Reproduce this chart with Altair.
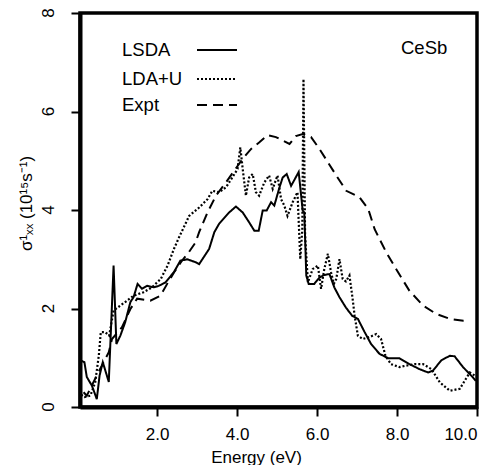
import altair as alt
import pandas as pd

# ---- data ----
lsda_E = [0.08, 0.18, 0.24, 0.37, 0.49, 0.56, 0.64, 0.79, 0.91, 0.98, 1.08, 1.20, 1.33, 1.41, 1.51,
          1.62, 1.75, 1.91, 2.04, 2.21, 2.42, 2.58, 2.75, 2.96, 3.05, 3.30, 3.43, 3.55, 3.80, 3.97,
          4.14, 4.30, 4.43, 4.54, 4.64, 4.74, 4.85, 4.93, 5.06, 5.14, 5.24, 5.35, 5.54, 5.64, 5.68,
          5.73, 5.79, 5.93, 6.06, 6.18, 6.31, 6.43, 6.56, 6.72, 6.88, 7.02, 7.19, 7.35, 7.56, 7.78,
          8.06, 8.31, 8.56, 8.78, 8.90, 9.11, 9.32, 9.44, 9.65, 9.90, 9.97]
lsda_S = [0.95, 0.91, 0.61, 0.43, 0.16, 0.64, 0.91, 0.51, 2.87, 1.28, 1.45, 1.72, 2.13, 2.23, 2.50,
          2.40, 2.46, 2.43, 2.46, 2.53, 2.74, 2.97, 3.00, 2.94, 2.90, 3.21, 3.55, 3.72, 3.95, 4.07,
          3.95, 3.75, 3.58, 3.58, 3.99, 3.99, 4.16, 4.09, 4.46, 4.66, 4.73, 4.49, 4.77, 3.99, 3.95,
          2.67, 2.50, 2.50, 2.63, 2.68, 2.70, 2.43, 2.23, 2.02, 1.85, 1.79, 1.52, 1.28, 1.08, 0.99,
          0.99, 0.87, 0.77, 0.70, 0.74, 0.95, 1.04, 1.03, 0.81, 0.60, 0.53]

ldau_E = [0.10, 0.18, 0.33, 0.45, 0.54, 0.59, 0.70, 0.80, 0.91, 1.08, 1.25, 1.41, 1.66, 1.87, 2.09,
          2.26, 2.42, 2.55, 2.80, 3.05, 3.26, 3.38, 3.55, 3.72, 3.88, 4.01, 4.08, 4.14, 4.22, 4.30,
          4.39, 4.47, 4.55, 4.68, 4.80, 4.89, 5.01, 5.10, 5.18, 5.26, 5.39, 5.51, 5.58, 5.63, 5.66,
          5.70, 5.77, 5.89, 6.02, 6.10, 6.18, 6.27, 6.35, 6.42, 6.48, 6.56, 6.64, 6.72, 6.81, 6.89,
          6.94, 7.02, 7.14, 7.31, 7.48, 7.60, 7.71, 7.85, 8.06, 8.23, 8.44, 8.65, 8.86, 9.07, 9.32,
          9.57, 9.69, 9.82, 9.94]
ldau_S = [0.25, 0.20, 0.23, 0.50, 1.04, 1.52, 1.52, 1.45, 1.96, 2.06, 2.16, 2.26, 2.33, 2.43, 2.60,
          2.87, 3.21, 3.45, 3.88, 4.05, 4.22, 4.39, 4.36, 4.46, 4.66, 4.83, 5.27, 4.83, 4.29, 4.66,
          4.73, 4.36, 4.29, 4.56, 4.70, 4.43, 4.70, 4.22, 4.09, 3.88, 4.16, 4.36, 3.00, 3.60, 6.66,
          3.50, 2.53, 2.80, 2.87, 2.40, 2.80, 3.11, 2.73, 2.50, 2.60, 3.00, 2.60, 2.55, 2.67, 2.19,
          1.85, 1.45, 1.38, 1.42, 1.48, 1.38, 1.04, 0.87, 0.81, 0.84, 0.87, 0.87, 0.77, 0.50, 0.33,
          0.37, 0.53, 0.70, 0.64]

expt_E = [0.16, 0.24, 0.49, 0.66, 0.79, 0.87, 1.12, 1.33, 1.50, 1.83, 2.08, 2.25, 2.42, 2.62, 2.79,
          2.96, 3.05, 3.26, 3.47, 3.72, 3.93, 4.14, 4.35, 4.55, 4.76, 4.97, 5.14, 5.31, 5.47, 5.64,
          5.85, 6.06, 6.27, 6.48, 6.73, 7.06, 7.28, 7.44, 7.73, 8.03, 8.31, 8.65, 8.98, 9.32, 9.66,
          9.78]
expt_S = [0.30, 0.23, 0.64, 0.91, 1.11, 1.38, 1.62, 1.99, 2.20, 2.16, 2.26, 2.50, 2.73, 2.97, 3.14,
          3.34, 3.55, 3.95, 4.29, 4.56, 4.80, 5.04, 5.24, 5.37, 5.52, 5.48, 5.41, 5.34, 5.50, 5.54,
          5.48, 5.24, 4.97, 4.70, 4.39, 4.26, 4.02, 3.61, 3.14, 2.73, 2.36, 2.06, 1.89, 1.79, 1.75,
          1.75]

series_names = ["LSDA", "LDA+U", "Expt"]
x_ticks = [2, 4, 6, 8, 10]
y_ticks = [0, 2, 4, 6, 8]

FONT = "Liberation Sans"
dashes = {"LSDA": [1, 0], "LDA+U": [2, 2], "Expt": [10, 6]}

frames = []
for name, E, S in [("LSDA", lsda_E, lsda_S), ("LDA+U", ldau_E, ldau_S), ("Expt", expt_E, expt_S)]:
    frames.append(pd.DataFrame({"E": E, "S": S, "series": name, "order": range(len(E))}))
df = pd.concat(frames, ignore_index=True)

x_scale = alt.Scale(domain=[0.07, 10], nice=False, zero=False)
y_scale = alt.Scale(domain=[0, 8], nice=False)

x_enc = alt.X("E:Q", scale=x_scale,
              axis=alt.Axis(values=x_ticks, format=".1f", title="Energy (eV)",
                            titleX=176, titleY=42, titleBaseline="top",
                            titleAlign="center", labelPadding=10, tickSize=9))
y_enc = alt.Y("S:Q", scale=y_scale,
              axis=alt.Axis(values=y_ticks, labels=False, title="σ¹ₓₓ  (10¹⁵s⁻¹)",
                            tickSize=9, titlePadding=35, titleY=190))

layers = []
for name in series_names:
    layers.append(
        alt.Chart(df[df.series == name]).mark_line(
            color="black", strokeWidth=2 if name != "LDA+U" else 2.2,
            strokeDash=dashes[name], clip=True
        ).encode(x=x_enc, y=y_enc, order="order:Q")
    )

# rotated y tick labels, placed through the shared y scale
ytl = pd.DataFrame({"S": y_ticks, "lab": [str(v) for v in y_ticks]})
layers.append(
    alt.Chart(ytl).mark_text(angle=270, align="center", baseline="middle", font=FONT,
                             fontSize=17, color="black")
    .encode(y=alt.Y("S:Q", scale=y_scale), x=alt.value(-31), text="lab:N")
)

# legend (label, then line sample on the right)
leg_y = {"LSDA": 37, "LDA+U": 66, "Expt": 92}
for name in series_names:
    ldf = pd.DataFrame({"label": [name]})
    layers.append(alt.Chart(ldf).mark_text(align="left", baseline="middle", font=FONT,
                                           fontSize=18.5, color="black")
                  .encode(text="label:N", x=alt.value(42), y=alt.value(leg_y[name])))
    layers.append(alt.Chart(ldf).mark_rule(color="black", strokeWidth=2, strokeDash=dashes[name])
                  .encode(x=alt.value(117), x2=alt.value(157), y=alt.value(leg_y[name])))

layers.append(alt.Chart(pd.DataFrame({"t": ["CeSb"]})).mark_text(
    align="left", baseline="middle", font=FONT, fontSize=18.5, color="black")
    .encode(text="t:N", x=alt.value(321), y=alt.value(35)))

chart = alt.layer(*layers).properties(
    width=397, height=394,
    padding={"left": 9, "top": 0, "right": 10, "bottom": 0},
).configure_view(stroke="black", strokeWidth=3.5).configure_axis(
    domainColor="black", domainWidth=4, tickColor="black", tickWidth=2,
    labelFont=FONT, labelFontSize=17, labelColor="black",
    titleFont=FONT, titleFontSize=17, titleColor="black", titleFontWeight="normal",
    grid=False,
)

chart.save("out.html", embed_options={"renderer": "svg", "actions": False})
